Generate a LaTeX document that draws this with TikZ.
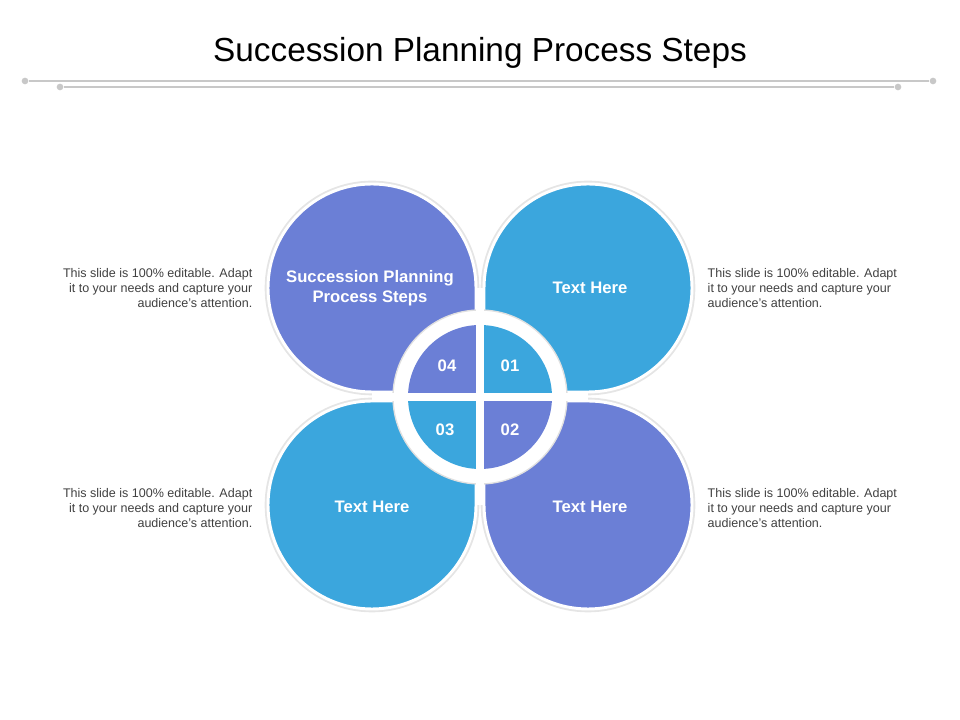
\documentclass[tikz,border=0pt]{standalone}
\usepackage{fontspec}
\setmainfont{Liberation Sans}
\definecolor{pur}{HTML}{6B7FD6}
\definecolor{blu}{HTML}{3BA6DD}
\definecolor{ln}{HTML}{C8C8C8}
\begin{document}
\begin{tikzpicture}[x=0.75pt,y=0.75pt,
  petal/.style={draw=white,line width=2.2pt},
  lbl/.style={text=white,font=\bfseries\fontsize{12.5}{15}\selectfont,align=center},
  num/.style={text=white,font=\bfseries\fontsize{12.5}{15}\selectfont},
  side/.style={font=\fontsize{9.4}{11.5}\selectfont,text=black!75},
  dot/.style={circle,fill=ln,inner sep=0pt,minimum size=5pt}]
\useasboundingbox (0,0) rectangle (960,720);
\node[font=\fontsize{25}{30}\selectfont] (title) at (480,667) {Succession Planning Process Steps};
\node[dot] (a1) at (25,639) {}; \node[dot] (a2) at (933,639) {};
\node[dot] (b1) at (60,633) {}; \node[dot] (b2) at (898,633) {};
\draw[ln,line width=1pt] (a1)--(a2); \draw[ln,line width=1pt] (b1)--(b2);
% shadows
\begin{scope}[black!10,line width=5pt]
\draw (476,432) arc[start angle=0,end angle=270,radius=104] -- (476,328) -- cycle;
\draw (588,328) arc[start angle=-90,end angle=180,radius=104] -- (484,328) -- cycle;
\draw (372,319) arc[start angle=90,end angle=360,radius=104] -- (476,319) -- cycle;
\draw (484,215) arc[start angle=180,end angle=450,radius=104] -- (484,319) -- cycle;
\end{scope}
% petals
\filldraw[petal,fill=pur] (476,432) arc[start angle=0,end angle=270,radius=104] -- (476,328) -- cycle;
\filldraw[petal,fill=blu] (588,328) arc[start angle=-90,end angle=180,radius=104] -- (484,328) -- cycle;
\filldraw[petal,fill=blu] (372,319) arc[start angle=90,end angle=360,radius=104] -- (476,319) -- cycle;
\filldraw[petal,fill=pur] (484,215) arc[start angle=180,end angle=450,radius=104] -- (484,319) -- cycle;
% ring
\filldraw[fill=white,draw=black!12,line width=1pt] (480,323) circle[radius=87];
\fill[white] (476,215) rectangle (484,432);
\fill[white] (372,319) rectangle (588,327);
\begin{scope}
\clip (480,323) circle[radius=72];
\fill[blu] (484,327) rectangle (560,400);
\fill[pur] (484,319) rectangle (560,240);
\fill[blu] (476,319) rectangle (400,240);
\fill[pur] (476,327) rectangle (400,400);
\end{scope}
\node[num] (n1) at (510,354) {01};
\node[num] (n2) at (510,290) {02};
\node[num] (n3) at (445,290) {03};
\node[num] (n4) at (447,354) {04};
\node[lbl] (p1) at (370,432) {Succession Planning\\Process Steps};
\node[lbl] (p2) at (590,432) {Text Here};
\node[lbl] (p3) at (372,213) {Text Here};
\node[lbl] (p4) at (590,213) {Text Here};
\node[side,anchor=east,align=right] (s1) at (257,432) {This slide is 100\% editable. Adapt\\it to your needs and capture your\\audience's attention.};
\node[side,anchor=west,align=left] (s2) at (703,432) {This slide is 100\% editable. Adapt\\it to your needs and capture your\\audience's attention.};
\node[side,anchor=east,align=right] (s3) at (257,212) {This slide is 100\% editable. Adapt\\it to your needs and capture your\\audience's attention.};
\node[side,anchor=west,align=left] (s4) at (703,212) {This slide is 100\% editable. Adapt\\it to your needs and capture your\\audience's attention.};
\end{tikzpicture}
\end{document}
